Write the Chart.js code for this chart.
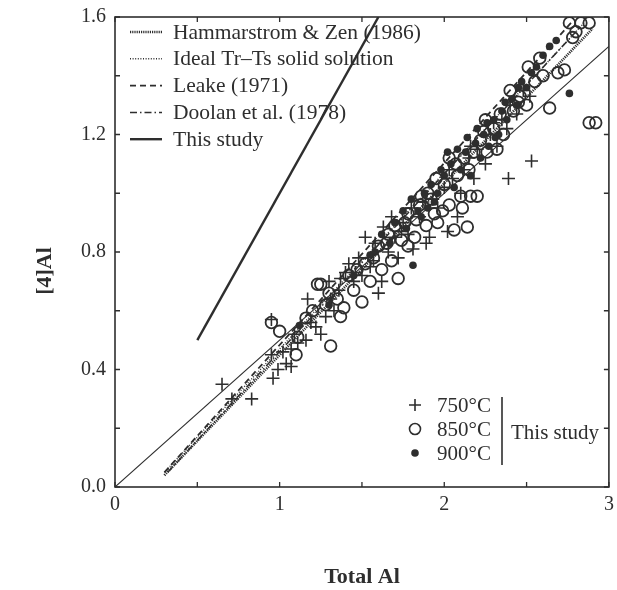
<!DOCTYPE html>
<html>
<head>
<meta charset="utf-8">
<script src="https://cdn.jsdelivr.net/npm/chart.js@4.4.0/dist/chart.umd.min.js"></script>
<style>
  html, body { margin: 0; padding: 0; background: #fff; overflow: hidden; }
  #wrap { position: relative; width: 617px; height: 590px; }
  canvas { display: block; }
</style>
</head>
<body>
<div id="wrap"><canvas id="chart"></canvas></div>
<script>
// ---- values (Total Al, [4]Al) ----
const runs750 = [
  [0.65,0.35],[0.71,0.30],[0.83,0.30],[0.95,0.57],[0.96,0.37],[0.95,0.45],[1.04,0.42],[1.07,0.41],
  [1.07,0.47],[0.99,0.40],[1.02,0.46],[1.11,0.49],[1.16,0.50],[1.22,0.545],[1.28,0.58],[1.25,0.52],
  [1.31,0.64],[1.40,0.73],[1.36,0.67],[1.37,0.71],[1.17,0.64],[1.33,0.60],[1.45,0.70],[1.50,0.72],
  [1.48,0.78],[1.55,0.75],[1.60,0.66],[1.62,0.70],[1.58,0.83],[1.63,0.885],[1.66,0.80],[1.70,0.85],
  [1.72,0.78],[1.75,0.90],[1.78,0.86],[1.81,0.81],[1.85,0.92],[1.89,0.83],[1.91,0.85],[1.93,0.98],
  [1.96,0.95],[2.02,0.87],[2.08,0.92],[2.00,1.02],[2.05,1.05],[2.10,1.00],[2.12,1.08],[2.15,1.12],
  [2.18,1.05],[2.20,1.15],[2.25,1.10],[2.28,1.20],[2.32,1.16],[2.35,1.25],[2.38,1.22],[2.40,1.30],
  [2.44,1.27],[2.48,1.35],[2.52,1.33],[2.39,1.05],[2.53,1.11],[1.52,0.85],[1.68,0.92],[1.80,0.95],
  [1.42,0.76],[1.30,0.70],[1.57,0.77],[1.74,0.87],[1.87,0.97],[2.03,1.08],[2.16,1.16],[2.30,1.24],
  [1.46,0.73],[1.19,0.56],[1.09,0.52]
];
const runs850 = [
  [0.95,0.56],[1.00,0.53],[1.10,0.45],[1.11,0.51],[1.16,0.575],[1.23,0.69],[1.25,0.69],[1.30,0.66],
  [1.31,0.48],[1.37,0.58],[1.39,0.61],[1.35,0.64],[1.45,0.67],[1.50,0.63],[1.47,0.74],[1.55,0.70],
  [1.57,0.78],[1.62,0.74],[1.65,0.83],[1.68,0.77],[1.72,0.71],[1.74,0.84],[1.78,0.82],[1.82,0.85],
  [1.85,0.96],[1.89,0.89],[1.90,1.00],[1.94,0.93],[1.99,0.94],[2.03,0.96],[2.06,0.875],[2.10,0.99],
  [2.14,0.885],[2.16,0.99],[2.20,0.99],[2.03,1.12],[2.32,1.15],[2.08,1.06],[2.12,1.12],[2.18,1.14],
  [2.22,1.18],[2.26,1.14],[2.30,1.22],[2.36,1.20],[2.42,1.28],[2.46,1.33],[2.50,1.30],[2.51,1.43],
  [2.55,1.38],[2.60,1.40],[2.64,1.29],[2.69,1.41],[2.73,1.42],[2.76,1.58],[2.83,1.58],[2.88,1.58],
  [2.80,1.55],[2.78,1.53],[2.88,1.24],[2.92,1.24],[2.58,1.46],[1.95,1.05],[1.86,0.99],[1.78,0.93],
  [1.70,0.89],[1.60,0.82],[1.42,0.72],[2.25,1.25],[2.40,1.35],[1.52,0.76],[1.66,0.86],[1.76,0.90],
  [1.83,0.91],[1.92,0.98],[2.00,1.03],[2.07,1.10],[2.15,1.08],[2.24,1.21],[2.34,1.27],[2.45,1.31],
  [1.20,0.60],[1.28,0.62],[1.96,0.90],[2.11,0.95]
];
const runs900 = [
  [1.12,0.55],[1.30,0.62],[1.45,0.72],[1.55,0.79],[1.62,0.86],[1.70,0.90],[1.75,0.94],[1.80,0.98],
  [1.84,0.94],[1.88,1.00],[1.92,1.03],[1.96,1.00],[2.00,1.06],[2.04,1.10],[2.06,1.02],[2.10,1.08],
  [2.13,1.14],[2.16,1.06],[2.19,1.17],[2.22,1.12],[2.24,1.20],[2.27,1.16],[2.30,1.25],[2.33,1.20],
  [2.35,1.28],[2.38,1.25],[2.41,1.32],[2.44,1.30],[2.47,1.38],[2.50,1.36],[2.53,1.41],[2.56,1.43],
  [2.60,1.47],[2.64,1.50],[2.68,1.52],[2.76,1.34],[1.81,0.755],[2.02,1.14],[2.08,1.15],[2.14,1.19],
  [2.20,1.22],[2.26,1.24],[2.31,1.19],[2.37,1.31],[2.45,1.36],[1.98,1.08],[1.94,0.97],[1.90,0.95],
  [1.86,0.92],[1.77,0.88],[1.67,0.83],[1.58,0.80]
];

// end points of the published relations
const lineHammarstrom = [[0.30,0.04],[2.90,1.56]];
const lineIdeal       = [[0.30,0.05],[2.85,1.58]];
const lineLeake       = [[0.30,0.05],[2.77,1.58]];
const lineDoolan      = [[0.32,0.05],[2.80,1.55]];
const lineThisStudy   = [[0.50,0.50],[1.60,1.60]];
const lineReference   = [[0.00,0.00],[3.00,1.50]];

const lineLabels = ['Hammarstrom & Zen (1986)', 'Ideal Tr\u2013Ts solid solution', 'Leake (1971)', 'Doolan et al. (1978)', 'This study'];
const runLabels = ['750\u00B0C', '850\u00B0C', '900\u00B0C'];
const xTickValues = [0, 0.5, 1, 1.5, 2, 2.5, 3];
const yTickValues = [0, 0.2, 0.4, 0.6, 0.8, 1.0, 1.2, 1.4, 1.6];

const INK = '#2e2e2e';
const SERIF = '"Liberation Serif", "Times New Roman", serif';

const toXY = arr => arr.map(p => ({ x: p[0], y: p[1] }));

function lineSet(label, pts, width, dash) {
  return {
    label, data: toXY(pts), showLine: true, pointRadius: 0,
    borderColor: INK, borderWidth: width, borderDash: dash, fill: false
  };
}

const lineStyles = [
  { w: 2.6, dash: [1.2, 1] },
  { w: 1.4, dash: [1, 1.6] },
  { w: 1.8, dash: [6, 4] },
  { w: 1.5, dash: [7, 3, 1.5, 3] },
  { w: 2.4, dash: [] }
];

// frame, inward ticks, titles and both legends
const decor = {
  id: 'decor',
  afterDraw(chart) {
    const { ctx, chartArea: a, scales: { x, y } } = chart;
    ctx.save();
    ctx.strokeStyle = INK;
    ctx.lineWidth = 1.6;
    ctx.setLineDash([]);
    ctx.strokeRect(a.left, a.top, a.right - a.left, a.bottom - a.top);

    ctx.lineWidth = 1.3;
    const tl = 5;
    xTickValues.forEach(v => {
      const px = x.getPixelForValue(v);
      ctx.beginPath();
      ctx.moveTo(px, a.bottom); ctx.lineTo(px, a.bottom - tl);
      ctx.moveTo(px, a.top); ctx.lineTo(px, a.top + tl);
      ctx.stroke();
    });
    yTickValues.forEach(v => {
      const py = y.getPixelForValue(v);
      ctx.beginPath();
      ctx.moveTo(a.left, py); ctx.lineTo(a.left + tl, py);
      ctx.moveTo(a.right, py); ctx.lineTo(a.right - tl, py);
      ctx.stroke();
    });

    // axis titles
    ctx.fillStyle = INK;
    ctx.font = 'bold 22px ' + SERIF;
    ctx.textAlign = 'center';
    ctx.textBaseline = 'middle';
    ctx.fillText('Total Al', (a.left + a.right) / 2, 577);
    ctx.save();
    ctx.translate(45, 271);
    ctx.rotate(-Math.PI / 2);
    ctx.fillText('[4]Al', 0, 0);
    ctx.restore();

    // legend of relations (top left)
    ctx.font = '21.5px ' + SERIF;
    ctx.textAlign = 'left';
    lineLabels.forEach((t, i) => {
      const ry = 32 + i * 26.8;
      ctx.lineWidth = lineStyles[i].w;
      ctx.setLineDash(lineStyles[i].dash);
      ctx.beginPath();
      ctx.moveTo(130, ry); ctx.lineTo(162, ry);
      ctx.stroke();
      ctx.setLineDash([]);
      ctx.fillText(t, 173, ry + 1);
    });

    // legend of runs (bottom right)
    const rows = [405, 429, 453];
    ctx.font = '21px ' + SERIF;
    ctx.lineWidth = 1.6;
    ctx.beginPath();
    ctx.moveTo(409, rows[0]); ctx.lineTo(421, rows[0]);
    ctx.moveTo(415, rows[0] - 6); ctx.lineTo(415, rows[0] + 6);
    ctx.stroke();
    ctx.beginPath();
    ctx.arc(415, rows[1], 5.5, 0, Math.PI * 2);
    ctx.stroke();
    ctx.beginPath();
    ctx.arc(415, rows[2], 3.8, 0, Math.PI * 2);
    ctx.fill();
    runLabels.forEach((t, i) => ctx.fillText(t, 437, rows[i] + 1));
    ctx.lineWidth = 1.6;
    ctx.beginPath();
    ctx.moveTo(502, 397); ctx.lineTo(502, 465);
    ctx.stroke();
    ctx.fillText('This study', 511, 433);
    ctx.restore();
  }
};

// fixed axis boxes; the edge labels may hang over the plot frame
const fixWidth = w => scale => {
  scale.width = w; scale.paddingTop = 0; scale.paddingBottom = 0;
  if (scale._margins) { scale._margins.top = 0; scale._margins.bottom = 0; }
};
const fixHeight = h => scale => {
  scale.height = h; scale.paddingLeft = 0; scale.paddingRight = 0;
  if (scale._margins) { scale._margins.left = 0; scale._margins.right = 0; }
};

new Chart(document.getElementById('chart'), {
  type: 'scatter',
  data: {
    datasets: [
      {
        label: runLabels[0], data: toXY(runs750), pointStyle: 'cross',
        pointRadius: 6.5, borderColor: INK, borderWidth: 1.6, backgroundColor: INK
      },
      {
        label: runLabels[1], data: toXY(runs850), pointStyle: 'circle',
        pointRadius: 5.8, borderColor: INK, borderWidth: 1.8, backgroundColor: 'rgba(255,255,255,0)'
      },
      {
        label: runLabels[2], data: toXY(runs900), pointStyle: 'circle',
        pointRadius: 3.8, borderColor: INK, borderWidth: 0, backgroundColor: INK
      },
      lineSet(lineLabels[0], lineHammarstrom, lineStyles[0].w, lineStyles[0].dash),
      lineSet(lineLabels[1], lineIdeal, lineStyles[1].w, lineStyles[1].dash),
      lineSet(lineLabels[2], lineLeake, lineStyles[2].w, lineStyles[2].dash),
      lineSet(lineLabels[3], lineDoolan, lineStyles[3].w, lineStyles[3].dash),
      lineSet(lineLabels[4], lineThisStudy, lineStyles[4].w, lineStyles[4].dash),
      lineSet('reference', lineReference, 1.1, [])
    ]
  },
  options: {
    responsive: true,
    maintainAspectRatio: false,
    animation: false,
    layout: { padding: { top: 17, right: 4, left: 0, bottom: 0 } },
    plugins: { legend: { display: false }, tooltip: { enabled: false } },
    scales: {
      x: {
        type: 'linear', min: 0, max: 3,
        afterBuildTicks: s => { s.ticks = xTickValues.map(v => ({ value: v })); },
        afterFit: fixHeight(103),
        grid: { display: false, drawTicks: false },
        border: { display: false },
        ticks: {
          autoSkip: false, maxRotation: 0, padding: 6, color: INK,
          font: { family: SERIF, size: 20 },
          callback: v => Number.isInteger(v) ? String(v) : ''
        }
      },
      y: {
        type: 'linear', min: 0, max: 1.6,
        afterBuildTicks: s => { s.ticks = yTickValues.map(v => ({ value: v })); },
        afterFit: fixWidth(115),
        grid: { display: false, drawTicks: false },
        border: { display: false },
        ticks: {
          autoSkip: false, padding: 9, color: INK,
          font: { family: SERIF, size: 20 },
          callback: v => (Math.abs(v / 0.4 - Math.round(v / 0.4)) < 1e-6) ? v.toFixed(1) : ''
        }
      }
    }
  },
  plugins: [decor]
});
</script>
</body>
</html>
